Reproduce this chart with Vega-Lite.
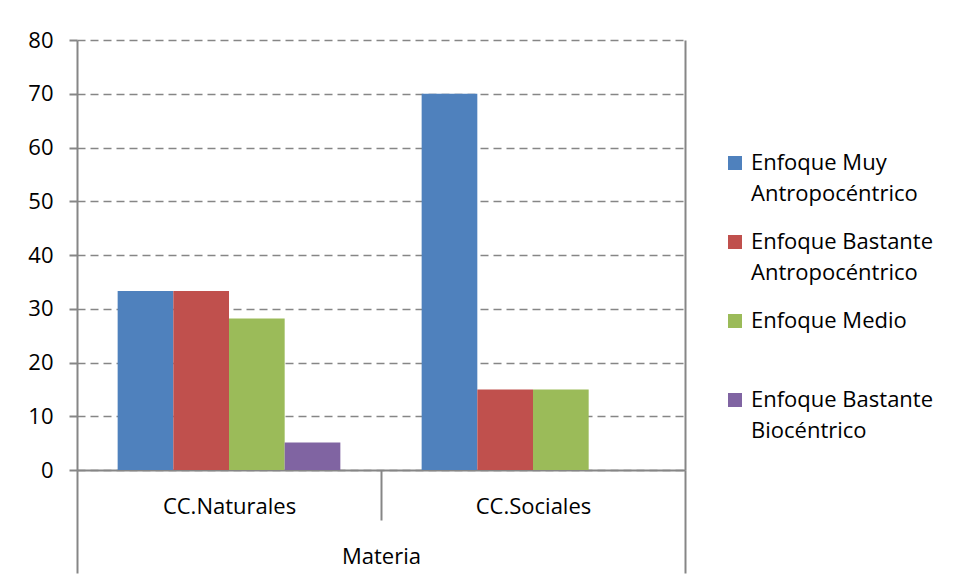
{
  "$schema": "https://vega.github.io/schema/vega-lite/v6.json",
  "width": 608,
  "height": 430,
  "autosize": {"type": "none"},
  "padding": {"left": 77, "top": 40, "right": 271, "bottom": 110},
  "background": "white",
  "config": {"view": {"stroke": null}, "font": "Open Sans", "style": {"guide-label": {"lineHeight": 31}}},
  "data": {
    "values": [
      {"materia": "CC.Naturales", "enfoque": "Enfoque Muy Antropocéntrico", "valor": 33.3},
      {"materia": "CC.Naturales", "enfoque": "Enfoque Bastante Antropocéntrico", "valor": 33.3},
      {"materia": "CC.Naturales", "enfoque": "Enfoque Medio", "valor": 28.2},
      {"materia": "CC.Naturales", "enfoque": "Enfoque Bastante Biocéntrico", "valor": 5.1},
      {"materia": "CC.Sociales", "enfoque": "Enfoque Muy Antropocéntrico", "valor": 70},
      {"materia": "CC.Sociales", "enfoque": "Enfoque Bastante Antropocéntrico", "valor": 15},
      {"materia": "CC.Sociales", "enfoque": "Enfoque Medio", "valor": 15},
      {"materia": "CC.Sociales", "enfoque": "Enfoque Bastante Biocéntrico", "valor": 0}
    ]
  },
  "layer": [
    {
      "mark": {"type": "bar"},
      "encoding": {
        "x": {
          "field": "materia", "type": "nominal",
          "scale": {"paddingInner": 0, "paddingOuter": 0},
          "axis": {
            "title": "Materia", "titleFontSize": 22, "titleFontWeight": "normal", "titleColor": "black",
            "titleY": 86, "titleBaseline": "middle",
            "labelAngle": 0, "labelFontSize": 22, "labelColor": "black", "labelBaseline": "middle",
            "labelPadding": {"condition": {"test": "datum.index == 0", "value": -14}, "value": -67},
            "tickBand": "extent",
            "tickSize": {"condition": {"test": "datum.index == 0", "value": 50}, "value": 103},
            "tickColor": "#868686", "tickWidth": 2,
            "domainColor": "#868686", "domainWidth": 2
          }
        },
        "xOffset": {
          "field": "enfoque", "type": "nominal",
          "sort": ["Enfoque Muy Antropocéntrico", "Enfoque Bastante Antropocéntrico", "Enfoque Medio", "Enfoque Bastante Biocéntrico"],
          "scale": {"paddingInner": 0, "paddingOuter": 0.73}
        },
        "y": {
          "field": "valor", "type": "quantitative",
          "scale": {"domain": [0, 80]},
          "axis": {
            "title": null, "values": [0, 10, 20, 30, 40, 50, 60, 70, 80],
            "labelFontSize": 22, "labelColor": "black", "labelPadding": 16,
            "tickSize": 8, "tickColor": "#868686", "tickWidth": 2,
            "domainColor": "#868686", "domainWidth": 2,
            "grid": true, "gridColor": "#868686", "gridDash": [8, 5], "gridWidth": 1.5
          }
        },
        "color": {
          "field": "enfoque", "type": "nominal",
          "sort": ["Enfoque Muy Antropocéntrico", "Enfoque Bastante Antropocéntrico", "Enfoque Medio", "Enfoque Bastante Biocéntrico"],
          "scale": {
            "domain": ["Enfoque Muy Antropocéntrico", "Enfoque Bastante Antropocéntrico", "Enfoque Medio", "Enfoque Bastante Biocéntrico"],
            "range": ["#4F81BD", "#C0504D", "#9BBB59", "#8064A2"]
          },
          "legend": {
            "title": null, "orient": "none", "legendX": 647, "legendY": 112,
            "symbolType": "square", "symbolSize": 196, "symbolStrokeWidth": 0,
            "labelFontSize": 22, "labelColor": "black", "labelLimit": 300, "labelOffset": 5,
            "labelBaseline": "middle",
            "labelExpr": "datum.label == 'Enfoque Medio' ? datum.label : [substring(datum.label, 0, lastindexof(datum.label, ' ')), substring(datum.label, lastindexof(datum.label, ' ') + 1)]",
            "gridAlign": "all", "rowPadding": 26
          }
        }
      }
    },
    {
      "mark": {"type": "bar", "opacity": 0},
      "encoding": {
        "x": {"field": "materia", "type": "nominal"},
        "y": {
          "field": "valor", "type": "quantitative",
          "axis": {"orient": "right", "labels": false, "ticks": false, "grid": false, "title": null, "domainColor": "#868686", "domainWidth": 2}
        }
      }
    }
  ],
  "resolve": {"axis": {"y": "independent"}}
}
